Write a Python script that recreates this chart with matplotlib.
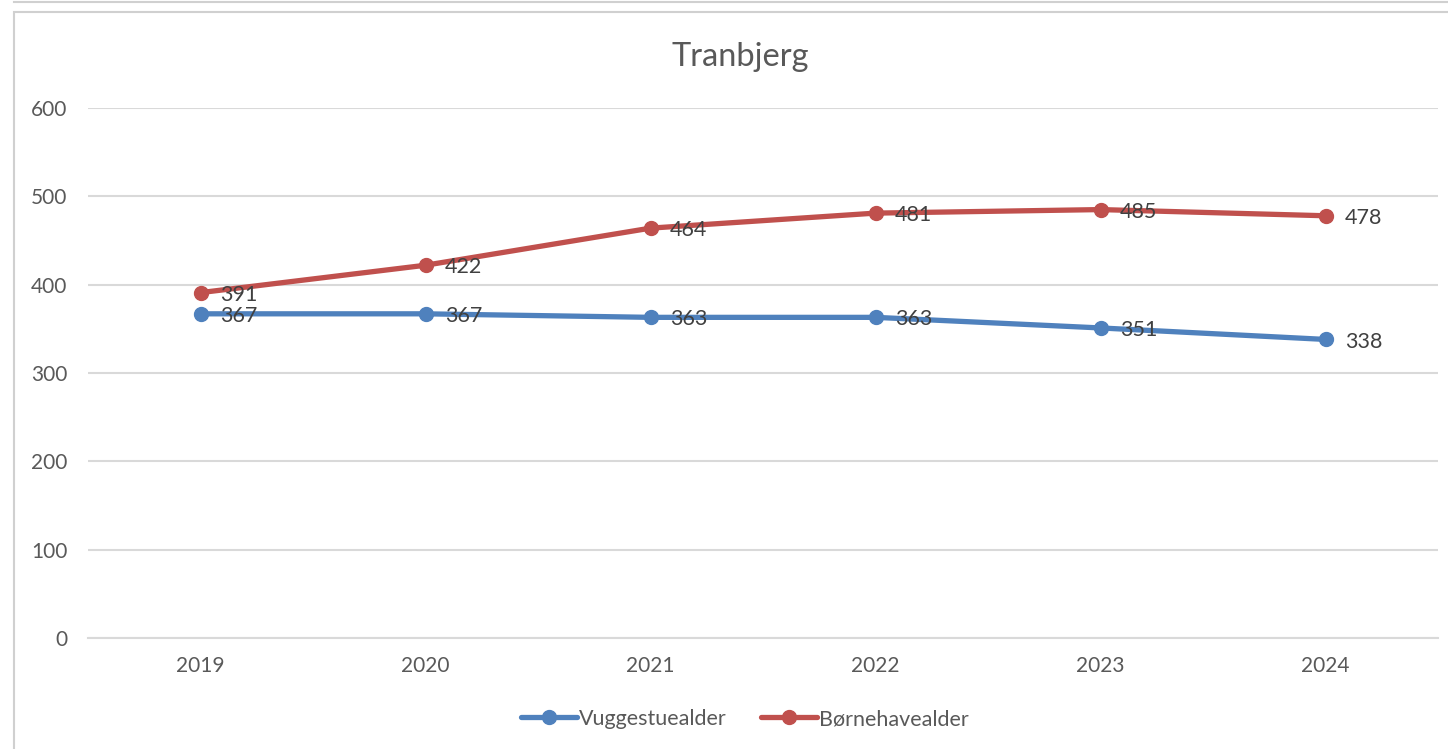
import matplotlib.pyplot as plt
from matplotlib.lines import Line2D
from matplotlib.patches import Rectangle

# data
years = ['2019', '2020', '2021', '2022', '2023', '2024']
vuggestue = [367, 367, 363, 363, 351, 338]
boernehave = [391, 422, 464, 481, 485, 478]

blue = '#4F81BD'
red = '#C0504D'
grid_col = '#D9D9D9'
txt_col = '#595959'

plt.rcParams['font.family'] = ['Lato', 'DejaVu Sans']

fig = plt.figure(figsize=(14.48, 7.49), dpi=100)
W, H = 1448, 749

# chart frame lines like the spreadsheet screenshot
fig.add_artist(Line2D([14 / W, 1], [1 - 2 / H, 1 - 2 / H], color='#D0D0D0', lw=1.5))
fig.add_artist(Rectangle((14 / W, -0.01), 1.5, 1 - 12 / H + 0.01, fill=False,
                         edgecolor='#D0D0D0', lw=1.5, transform=fig.transFigure))

ax = fig.add_axes([88 / W, 1 - 638 / H, 1350 / W, 530 / H])
x = list(range(len(years)))
ax.plot(x, vuggestue, color=blue, lw=3.8, marker='o', markersize=10, label='Vuggestuealder',
        solid_capstyle='round', zorder=3)
ax.plot(x, boernehave, color=red, lw=3.8, marker='o', markersize=10, label='Børnehavealder',
        solid_capstyle='round', zorder=3)

for xs, ys in [(x, vuggestue), (x, boernehave)]:
    for xi, yi in zip(xs, ys):
        ax.annotate(str(yi), (xi, yi), xytext=(14, -1.5), textcoords='offset points',
                    ha='left', va='center', fontsize=15.5, color='#404040', zorder=4)

ax.set_xlim(-0.5, 5.5)
ax.set_ylim(0, 600)
ax.set_yticks(range(0, 601, 100))
ax.set_xticks(x)
ax.set_xticklabels(years)
ax.grid(axis='y', color=grid_col, lw=1.5)
ax.set_axisbelow(True)
for s in ['top', 'right', 'left']:
    ax.spines[s].set_visible(False)
ax.spines['bottom'].set_color(grid_col)
ax.spines['bottom'].set_linewidth(1.5)
ax.tick_params(axis='both', length=0, labelsize=15, labelcolor=txt_col)
ax.tick_params(axis='y', pad=15)
ax.tick_params(axis='x', pad=13)

fig.text(740 / W, 1 - 57 / H, 'Tranbjerg', ha='center', va='center', fontsize=23.5, color=txt_col)

fig.legend(loc='center', bbox_to_anchor=(745 / W, 1 - 719 / H), ncol=2, frameon=False,
           fontsize=15.5, labelcolor=txt_col, handlelength=2.6, handletextpad=0.1,
           columnspacing=1.6)

fig.savefig('out.png', dpi=100)
